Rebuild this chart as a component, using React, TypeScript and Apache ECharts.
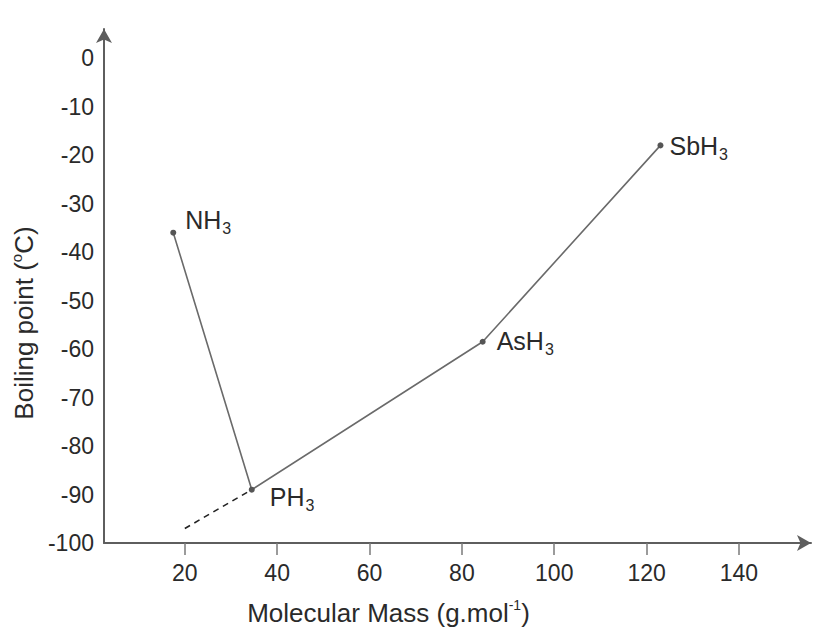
import React, { useEffect, useRef } from "react";
import * as echarts from "echarts";

// ---- data ----
const compounds = ["NH", "PH", "AsH", "SbH"];
const subscripts = ["3", "3", "3", "3"];
const molecularMass = [17.5, 34.5, 84.5, 123];
const boilingPoint = [-36, -89, -58.5, -18];
// dashed extrapolation from PH3 back towards mass 20
const extrapolatedMass = [20, 34.5];
const extrapolatedBp = [-97, -89];
const xTickValues = [20, 40, 60, 80, 100, 120, 140];

// ---- styling ----
const FONT = "'Liberation Sans', Arial, Helvetica, sans-serif";
const TEXT = "#2a2a2a";
const AXIS = "#5e5e5e";
const LINE = "#6a6a6a";
const labelOffsets = [
  [4, -12],
  [10, 8],
  [6, 0],
  [1, 1],
];

export default function App() {
  const ref = useRef<HTMLDivElement>(null);

  useEffect(() => {
    if (!ref.current) return;
    const chart = echarts.init(ref.current, null, { renderer: "svg" });

    const mainData = compounds.map((c, i) => ({
      value: [molecularMass[i], boilingPoint[i]],
      name: c,
      label: {
        show: true,
        position: "right",
        distance: 5,
        offset: labelOffsets[i],
        formatter: `{m|${c}}{s|${subscripts[i]}}`,
        rich: {
          m: { fontSize: 25, fontFamily: FONT, color: TEXT, verticalAlign: "top", lineHeight: 26 },
          s: {
            fontSize: 16,
            fontFamily: FONT,
            color: TEXT,
            verticalAlign: "top",
            lineHeight: 16,
            padding: [13, 0, 0, 1],
          },
        },
      },
    }));

    const dashData = extrapolatedMass.map((m, i) => [m, extrapolatedBp[i]]);

    chart.setOption({
      animation: false,
      backgroundColor: "#ffffff",
      grid: { left: 104, right: 7, top: 29, bottom: 88, containLabel: false },
      xAxis: {
        type: "value",
        min: 2.5,
        max: 155.6,
        name: "{t|Molecular Mass (g.mol}{s|-1}{t|)}",
        nameLocation: "middle",
        nameGap: 55,
        nameTextStyle: {
          fontFamily: FONT,
          fontSize: 26,
          color: TEXT,
          padding: [0, 138, 0, 0],
          rich: {
            t: { fontSize: 26, fontFamily: FONT, color: TEXT, verticalAlign: "bottom", lineHeight: 28 },
            s: { fontSize: 14, fontFamily: FONT, color: TEXT, verticalAlign: "top", lineHeight: 14 },
          },
        },
        axisLine: {
          show: true,
          onZero: false,
          symbol: ["none", "arrow"],
          symbolSize: [12, 14],
          lineStyle: { color: AXIS, width: 2 },
        },
        axisTick: {
          show: true,
          customValues: xTickValues,
          length: 12,
          lineStyle: { color: "#7a7a7a", width: 1.5 },
        },
        axisLabel: {
          customValues: xTickValues,
          margin: 18,
          fontSize: 23,
          fontFamily: FONT,
          color: TEXT,
        },
        splitLine: { show: false },
      },
      yAxis: {
        type: "value",
        min: -100,
        max: 6,
        interval: 10,
        name: "{t|Boiling point (}{s|o}{t|C)}",
        nameLocation: "middle",
        nameGap: 66,
        nameTextStyle: {
          fontFamily: FONT,
          fontSize: 26,
          color: TEXT,
          padding: [0, 74, 0, 0],
          rich: {
            t: { fontSize: 26, fontFamily: FONT, color: TEXT, verticalAlign: "bottom", lineHeight: 28 },
            s: { fontSize: 15, fontFamily: FONT, color: TEXT, verticalAlign: "top", lineHeight: 15 },
          },
        },
        axisLine: {
          show: true,
          onZero: false,
          symbol: ["none", "arrow"],
          symbolSize: [12, 14],
          lineStyle: { color: AXIS, width: 2 },
        },
        axisTick: { show: false },
        axisLabel: {
          showMaxLabel: false,
          margin: 10,
          fontSize: 23,
          fontFamily: FONT,
          color: TEXT,
        },
        splitLine: { show: false },
      },
      series: [
        {
          type: "line",
          data: mainData,
          symbol: "circle",
          symbolSize: 6,
          itemStyle: { color: "#555555" },
          lineStyle: { color: LINE, width: 1.6 },
          z: 3,
        },
        {
          type: "line",
          data: dashData,
          symbol: "none",
          lineStyle: { color: "#222222", width: 1.6, type: [6, 5] },
          z: 2,
        },
      ],
    });

    return () => chart.dispose();
  }, []);

  return (
    <div
      ref={ref}
      style={{ position: "absolute", left: 0, top: 0, width: 818, height: 631 }}
    />
  );
}
